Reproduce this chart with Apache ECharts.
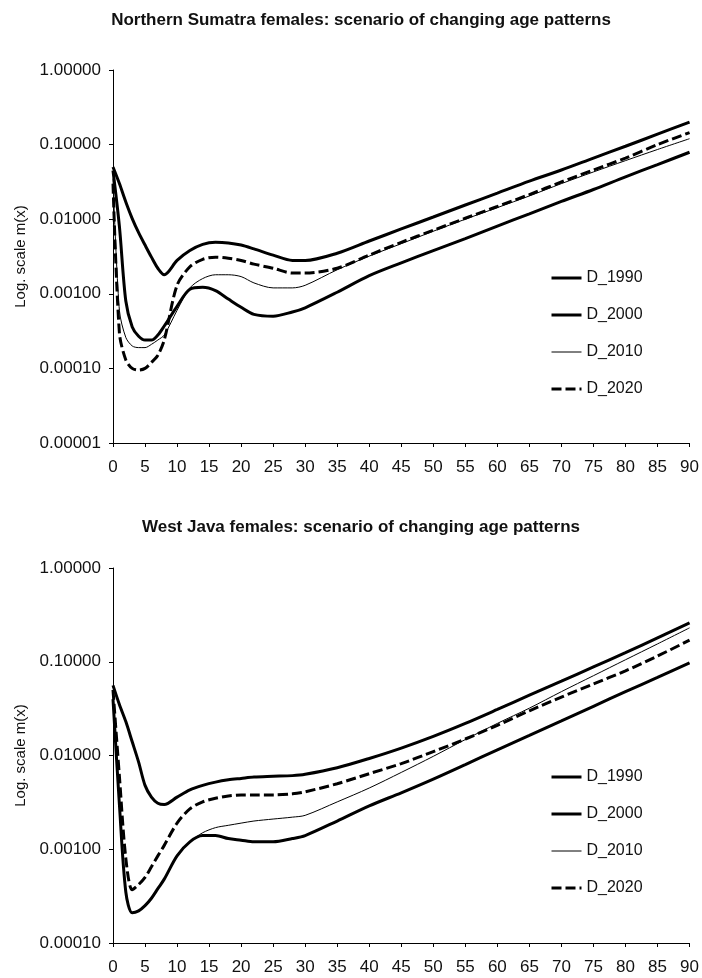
<!DOCTYPE html>
<html>
<head>
<meta charset="utf-8">
<script src="https://cdn.jsdelivr.net/npm/echarts@6/dist/echarts.min.js"></script>
<style>
  html, body { margin: 0; padding: 0; background: #fff; }
  #chart { width: 702px; height: 978px; }
</style>
</head>
<body>
<div id="chart"></div>
<script>
var myChart = echarts.init(document.getElementById('chart'));

// ages (x)
var ages = [0, 1, 2, 3, 4, 5, 6, 7, 8, 10, 12, 14, 16, 18, 20, 22, 25, 28, 30, 35, 40, 45, 50, 55, 60, 65, 70, 75, 80, 85, 90];

// Northern Sumatra females, m(x)
var nsD1990 = [0.05, 0.03, 0.017, 0.0102, 0.0066, 0.0045, 0.0031, 0.0022, 0.0018, 0.0028, 0.0038, 0.0046, 0.0049, 0.0048, 0.0045, 0.0040, 0.0033, 0.0028, 0.0028, 0.0035, 0.0051, 0.0074, 0.0107, 0.0155, 0.0224, 0.0324, 0.0457, 0.066, 0.095, 0.138, 0.20];
var nsD2000 = [0.045, 0.008, 0.0008, 0.00036, 0.00027, 0.00024, 0.00024, 0.00028, 0.00037, 0.00068, 0.00115, 0.00122, 0.0011, 0.00085, 0.00066, 0.00053, 0.0005, 0.00057, 0.00065, 0.00105, 0.00175, 0.0026, 0.0038, 0.0055, 0.0081, 0.0118, 0.0173, 0.025, 0.037, 0.054, 0.079];
var nsD2010 = [0.035, 0.0006, 0.00026, 0.0002, 0.00019, 0.00019, 0.00021, 0.00024, 0.00028, 0.0006, 0.0012, 0.0016, 0.0018, 0.0018, 0.0017, 0.0014, 0.0012, 0.0012, 0.0013, 0.0021, 0.0032, 0.0047, 0.0069, 0.010, 0.0143, 0.0205, 0.030, 0.043, 0.061, 0.086, 0.12];
var nsD2020 = [0.03, 0.0003, 0.00013, 0.0001, 0.000095, 0.0001, 0.00012, 0.00015, 0.00024, 0.0013, 0.0023, 0.0029, 0.0031, 0.003, 0.0028, 0.0025, 0.0022, 0.0019, 0.0019, 0.0022, 0.0033, 0.0049, 0.0071, 0.0103, 0.0148, 0.0214, 0.0316, 0.0457, 0.066, 0.10, 0.145];

// West Java females, m(x)
var wjD1990 = [0.056, 0.035, 0.023, 0.014, 0.0085, 0.0048, 0.0036, 0.0031, 0.003, 0.0036, 0.0043, 0.0048, 0.0052, 0.0055, 0.0057, 0.0059, 0.006, 0.0061, 0.0063, 0.0074, 0.0093, 0.012, 0.016, 0.022, 0.031, 0.044, 0.062, 0.088, 0.125, 0.18, 0.26];
var wjD2000 = [0.04, 0.003, 0.00035, 0.00021, 0.00022, 0.00025, 0.0003, 0.00038, 0.00048, 0.00085, 0.0012, 0.0014, 0.0014, 0.0013, 0.00125, 0.0012, 0.0012, 0.0013, 0.0014, 0.002, 0.0029, 0.004, 0.0056, 0.008, 0.0115, 0.0164, 0.0234, 0.0335, 0.048, 0.068, 0.097];
var wjD2010 = [0.04, 0.003, 0.00035, 0.00021, 0.00022, 0.00025, 0.0003, 0.00038, 0.00048, 0.00085, 0.0012, 0.0015, 0.0017, 0.0018, 0.0019, 0.002, 0.0021, 0.0022, 0.0023, 0.0032, 0.0045, 0.0066, 0.0098, 0.0148, 0.022, 0.032, 0.048, 0.071, 0.105, 0.155, 0.23];
var wjD2020 = [0.05, 0.006, 0.0008, 0.00037, 0.00042, 0.0005, 0.00065, 0.00085, 0.0011, 0.0019, 0.0027, 0.0032, 0.0035, 0.0037, 0.0038, 0.0038, 0.0038, 0.0039, 0.0041, 0.005, 0.0064, 0.0082, 0.011, 0.015, 0.021, 0.03, 0.042, 0.058, 0.08, 0.115, 0.17];

var names = ['D_1990', 'D_2000', 'D_2010', 'D_2020'];
var titles = ['Northern Sumatra females: scenario of changing age patterns',
              'West Java females: scenario of changing age patterns'];

var font = 'Liberation Sans, Arial, sans-serif';
var styles = [
    { width: 3, type: 'solid' },
    { width: 3, type: 'solid' },
    { width: 1, type: 'solid' },
    { width: 3, type: [10, 4] }
];

function pairs(arr) {
    return ages.map(function (a, i) { return [a, arr[i]]; });
}

function makeSeries(list, idx) {
    return list.map(function (arr, k) {
        return {
            name: names[k],
            type: 'line',
            xAxisIndex: idx,
            yAxisIndex: idx,
            data: pairs(arr),
            symbol: 'none',
            showSymbol: false,
            smooth: 0.3,
            color: '#000',
            lineStyle: { color: '#000', width: styles[k].width, type: styles[k].type },
            silent: true
        };
    });
}

function xAxisOf(idx) {
    return {
        type: 'value',
        gridIndex: idx,
        min: 0,
        max: 90,
        interval: 5,
        axisLine: { show: true, lineStyle: { color: '#000', width: 1 } },
        axisTick: { show: true, length: 4, lineStyle: { color: '#000' } },
        axisLabel: { color: '#111', fontSize: 17, fontFamily: font, margin: 16 },
        splitLine: { show: false }
    };
}

function yAxisOf(idx, minVal) {
    return {
        type: 'log',
        logBase: 10,
        gridIndex: idx,
        min: minVal,
        max: 1,
        name: 'Log. scale m(x)',
        nameLocation: 'middle',
        nameGap: 84,
        nameTextStyle: { color: '#111', fontSize: 15, fontFamily: font },
        axisLine: { show: true, lineStyle: { color: '#000', width: 1 } },
        axisTick: { show: true, length: 4, lineStyle: { color: '#000' } },
        axisLabel: {
            color: '#111', fontSize: 17, fontFamily: font, margin: 12,
            formatter: function (v) { return Number(v).toFixed(5); }
        },
        splitLine: { show: false }
    };
}

function legendOf(top) {
    return {
        orient: 'vertical',
        left: 550,
        top: top,
        padding: 0,
        itemWidth: 30,
        itemHeight: 14,
        itemGap: 21,
        data: names.map(function (n, k) {
            return {
                name: n,
                itemStyle: { opacity: 0 },
                lineStyle: { color: '#000', width: styles[k].width, type: styles[k].type }
            };
        }),
        selectedMode: false,
        itemStyle: { opacity: 0 },
        textStyle: { color: '#111', fontSize: 16, fontFamily: font }
    };
}

option = {
    animation: false,
    backgroundColor: '#fff',
    title: [
        { text: titles[0], left: 361, top: 12, textAlign: 'center', padding: 0,
          textStyle: { fontSize: 17, fontWeight: 'bold', color: '#111', fontFamily: font } },
        { text: titles[1], left: 361, top: 519, textAlign: 'center', padding: 0,
          textStyle: { fontSize: 17, fontWeight: 'bold', color: '#111', fontFamily: font } }
    ],
    legend: [legendOf(270), legendOf(769)],
    grid: [
        { left: 113, top: 70, width: 580, height: 373 },
        { left: 113, top: 568, width: 580, height: 375 }
    ],
    xAxis: [xAxisOf(0), xAxisOf(1)],
    yAxis: [yAxisOf(0, 0.00001), yAxisOf(1, 0.0001)],
    series: makeSeries([nsD1990, nsD2000, nsD2010, nsD2020], 0)
        .concat(makeSeries([wjD1990, wjD2000, wjD2010, wjD2020], 1))
};
myChart.setOption(option);
</script>
</body>
</html>
